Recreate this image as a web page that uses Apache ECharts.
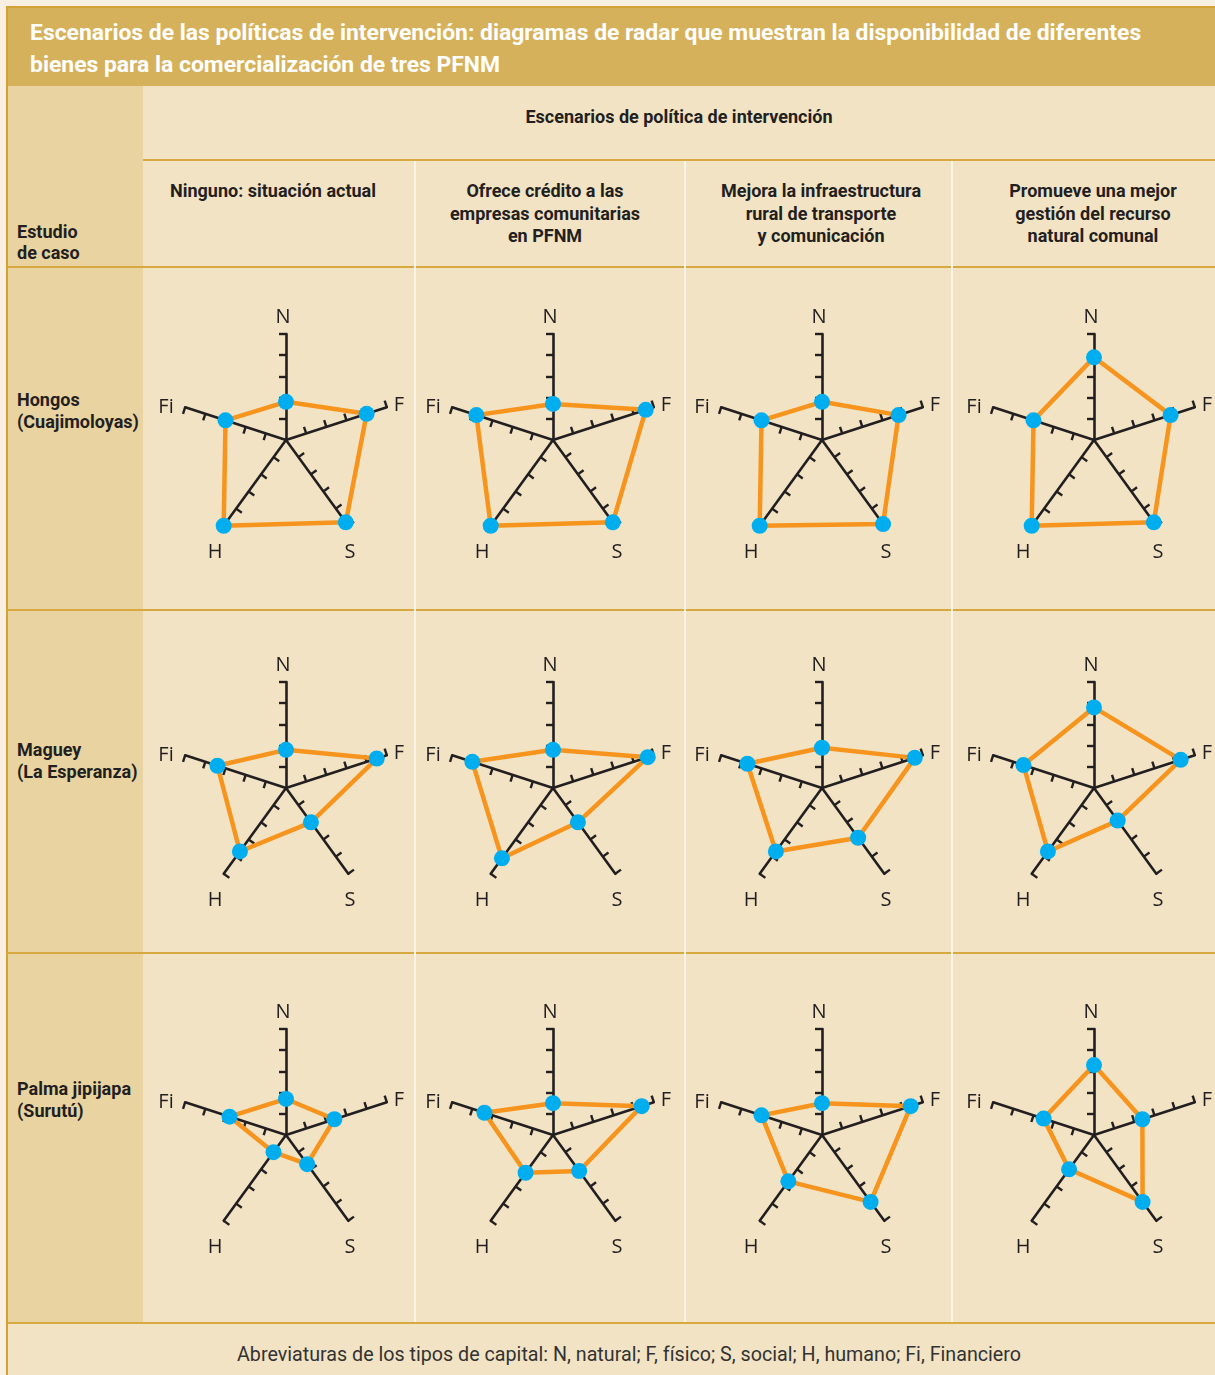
<!DOCTYPE html>
<html>
<head>
<meta charset="utf-8">
<script src="https://cdn.jsdelivr.net/npm/echarts@6/dist/echarts.min.js"></script>
<style>
html, body { margin: 0; padding: 0; background: #f9f0e2; }
#wrap { position: relative; width: 1215px; height: 1375px; overflow: hidden; font-family: Roboto, sans-serif; color: #231f20; }
.abs { position: absolute; }
.b { font-weight: bold; font-size: 18px; line-height: 22px; white-space: nowrap; }
#main { position: absolute; left: 0; top: 0; width: 1215px; height: 1375px; }
</style>
</head>
<body>
<div id="wrap">
  <div class="abs" style="left:7px;top:7px;width:1208px;height:79px;background:#d6b15b;"></div>
  <div class="abs" style="left:7px;top:86px;width:136px;height:1237px;background:#e8d3a1;"></div>
  <div class="abs" style="left:143px;top:86px;width:1072px;height:1237px;background:#f2e3c4;"></div>
  <div class="abs" style="left:7px;top:1323px;width:1208px;height:52px;background:#f2e3c4;"></div>
  <!-- bordes -->
  <div class="abs" style="left:6px;top:6px;width:1209px;height:2px;background:#d3a234;"></div>
  <div class="abs" style="left:6px;top:6px;width:2px;height:1369px;background:#d3a234;"></div>
  <div class="abs" style="left:143px;top:159px;width:1072px;height:2px;background:#d7a940;"></div>
  <div class="abs" style="left:7px;top:266px;width:1208px;height:2px;background:#d7a940;"></div>
  <div class="abs" style="left:7px;top:609px;width:1208px;height:2px;background:#d7a940;"></div>
  <div class="abs" style="left:7px;top:952px;width:1208px;height:2px;background:#d7a940;"></div>
  <div class="abs" style="left:7px;top:1322px;width:1208px;height:2px;background:#d7a940;"></div>
  <div class="abs" style="left:414px;top:161px;width:2px;height:1161px;background:#fbf4e6;"></div>
  <div class="abs" style="left:684px;top:161px;width:2px;height:1161px;background:#fbf4e6;"></div>
  <div class="abs" style="left:951px;top:161px;width:2px;height:1161px;background:#fbf4e6;"></div>
  <div id="texts"></div>
  <div id="main"></div>
</div>
<script>
// tipos de capital (ejes) y valores, escala 0-5
var capitales = ['N', 'F', 'S', 'H', 'Fi'];
var casos = [['Hongos', '(Cuajimoloyas)'], ['Maguey', '(La Esperanza)'], ['Palma jipijapa', '(Surutú)']];
var escenarios = [
    ['Ninguno: situación actual'],
    ['Ofrece crédito a las', 'empresas comunitarias', 'en PFNM'],
    ['Mejora la infraestructura', 'rural de transporte', 'y comunicación'],
    ['Promueve una mejor', 'gestión del recurso', 'natural comunal']
];
// cada fila: N, F, S, H, Fi
var hongos = [[1.8, 4.0, 4.8, 5.0, 3.0], [1.7, 4.6, 4.8, 5.0, 3.8], [1.8, 3.8, 4.9, 5.0, 3.0], [3.9, 3.8, 4.8, 5.0, 3.0]];
var maguey = [[1.8, 4.5, 2.0, 3.7, 3.4], [1.8, 4.7, 2.0, 4.1, 4.0], [1.9, 4.6, 2.9, 3.7, 3.7], [3.8, 4.3, 1.9, 3.7, 3.5]];
var palma = [[1.7, 2.4, 1.7, 1.0, 2.8], [1.5, 4.4, 2.1, 2.2, 3.4], [1.5, 4.4, 3.9, 2.7, 3.0], [3.3, 2.4, 3.9, 2.0, 2.5]];
var datos = [hongos, maguey, palma];
var marcas = [1, 2, 3, 4, 5];

var titulo = ['Escenarios de las políticas de intervención: diagramas de radar que muestran la disponibilidad de diferentes',
    'bienes para la comercialización de tres PFNM'];
var nota = 'Abreviaturas de los tipos de capital: N, natural; F, físico; S, social; H, humano; Fi, Financiero';

var colX = [286, 553, 822, 1094];
var colTexto = [273, 545, 821, 1093];
var filaY = [440, 788, 1135];
var filaTexto = [389, 739, 1078];

// textos de la tabla
var html = '';
html += '<div class="abs" style="left:30px;top:17px;color:#fff;font-weight:bold;font-size:22.9px;line-height:32px;white-space:nowrap">' + titulo.join('<br>') + '</div>';
html += '<div class="abs b" style="left:143px;top:106px;width:1072px;text-align:center">Escenarios de política de intervención</div>';
for (var c = 0; c < escenarios.length; c++) {
    html += '<div class="abs b" style="left:' + (colTexto[c] - 140) + 'px;top:180px;width:280px;text-align:center;line-height:22.5px">' + escenarios[c].join('<br>') + '</div>';
}
html += '<div class="abs b" style="left:17px;top:221px;line-height:21px">Estudio<br>de caso</div>';
for (var r = 0; r < casos.length; r++) {
    html += '<div class="abs b" style="left:17px;top:' + filaTexto[r] + 'px">' + casos[r].join('<br>') + '</div>';
}
html += '<div class="abs" style="left:179px;top:1344px;width:900px;text-align:center;font-size:19.7px;line-height:22px;color:#333;white-space:nowrap">' + nota + '</div>';
document.getElementById('texts').innerHTML = html;

var myChart = echarts.init(document.getElementById('main'), null, {renderer: 'canvas'});

// orden de los ejes en sentido antihorario desde arriba: N, Fi, H, S, F
var orden = [0, 4, 3, 2, 1];
var etiquetaPos = {N: [-3, -123], F: [113, -35], S: [64, 112], H: [-71, 112], Fi: [-120, -33]};

var radares = [], series = [], graficos = [];
for (var r = 0; r < 3; r++) {
    for (var c = 0; c < 4; c++) {
        var idx = radares.length;
        radares.push({
            center: [colX[c], filaY[r]],
            radius: 106,
            startAngle: 90,
            splitNumber: 5,
            shape: 'polygon',
            indicator: orden.map(function (k) { return {name: capitales[k], min: 0, max: 5}; }),
            axisName: {show: false},
            axisLine: {lineStyle: {color: '#231f20', width: 2.6}},
            axisTick: {show: true, length: 7, customValues: marcas, lineStyle: {color: '#231f20', width: 2.4}},
            axisLabel: {show: false},
            splitLine: {show: false},
            splitArea: {show: false}
        });
        var fila = datos[r][c];
        series.push({
            type: 'radar',
            radarIndex: idx,
            symbol: 'circle',
            symbolSize: 16,
            itemStyle: {color: '#00aeef'},
            lineStyle: {color: '#f7941d', width: 4.5},
            silent: true,
            data: [{value: orden.map(function (k) { return fila[k]; })}]
        });
        capitales.forEach(function (nombre) {
            graficos.push({
                type: 'text',
                x: colX[c] + etiquetaPos[nombre][0],
                y: filaY[r] + etiquetaPos[nombre][1],
                style: {
                    text: nombre, fill: '#231f20',
                    font: '500 20px "Open Sans"',
                    textAlign: 'center', textVerticalAlign: 'middle',
                    align: 'center', verticalAlign: 'middle'
                }
            });
        });
    }
}

myChart.setOption({
    animation: false,
    radar: radares,
    series: series,
    graphic: {elements: graficos}
});
</script>
</body>
</html>
